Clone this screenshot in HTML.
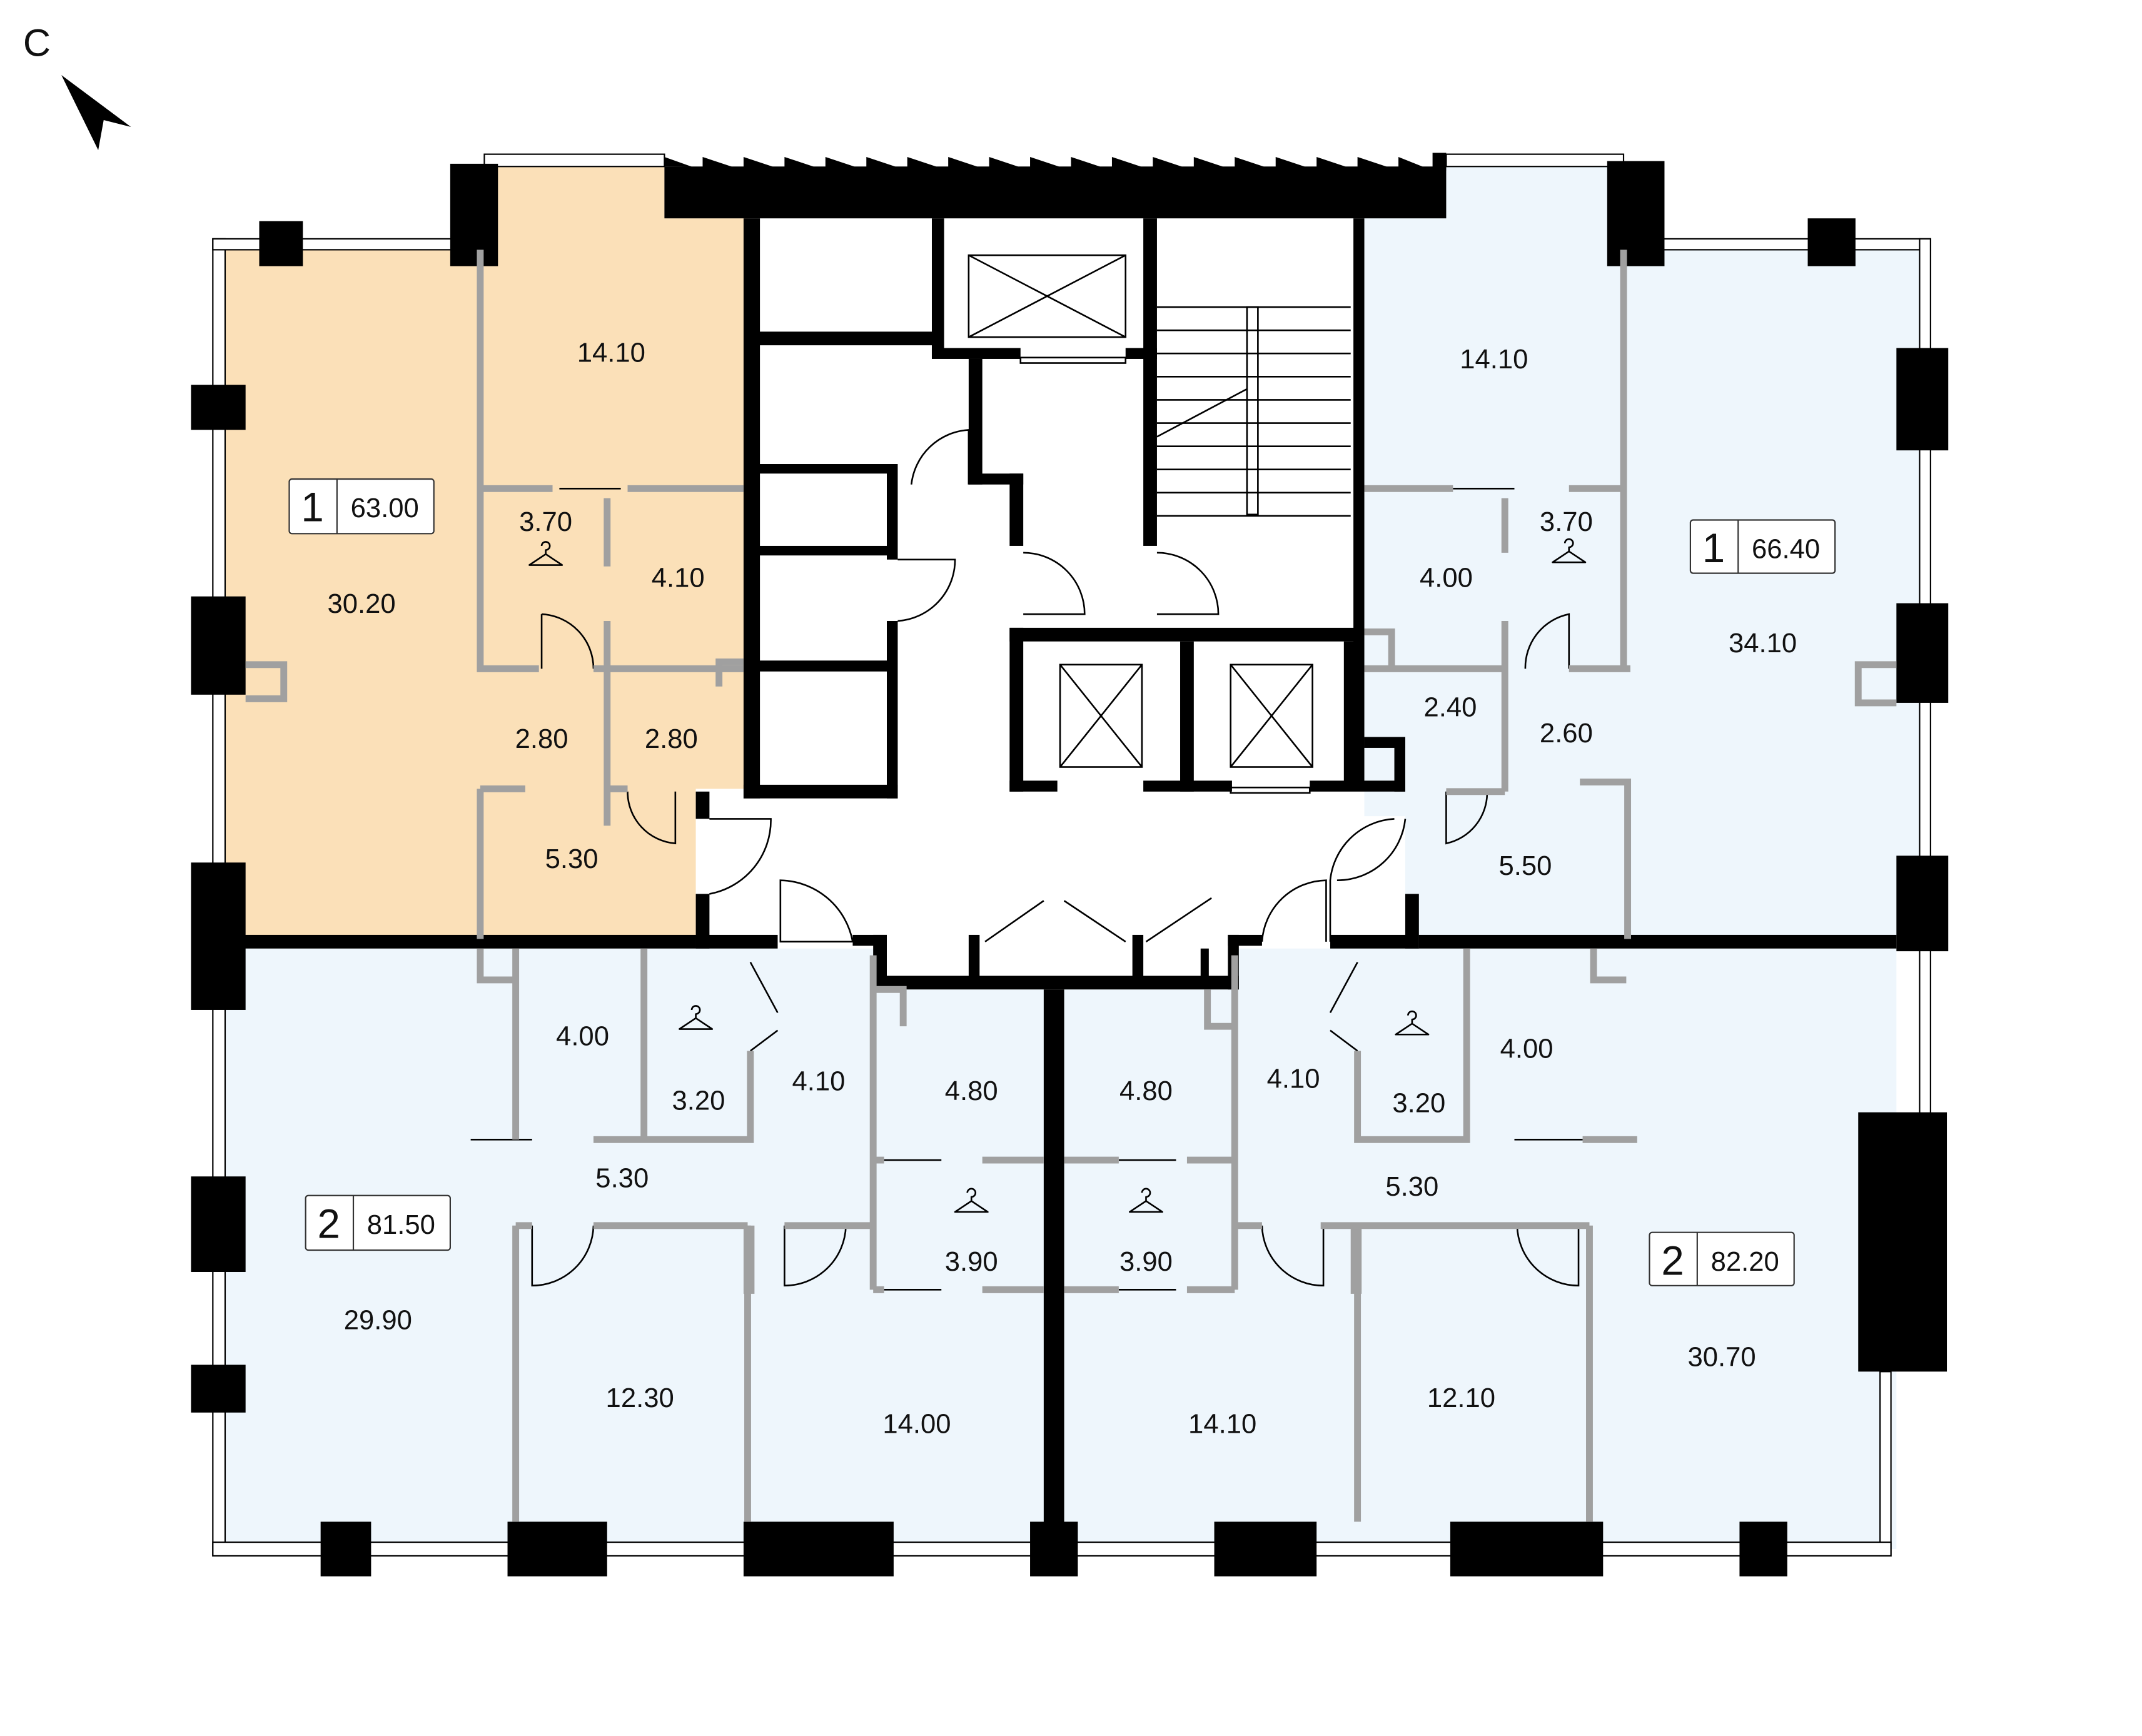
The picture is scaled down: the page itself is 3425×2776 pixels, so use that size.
<!DOCTYPE html>
<html><head><meta charset="utf-8"><style>
html,body{margin:0;padding:0;background:#fff}
svg{display:block}
text{font-family:"Liberation Sans Narrow","Liberation Sans",sans-serif;fill:#111}
</style></head><body>
<svg width="3425" height="2776" viewBox="0 0 1570 1272" preserveAspectRatio="none" xmlns="http://www.w3.org/2000/svg">
<rect width="1570" height="1272" fill="#fff"/>
<polygon points="165,183 350,183 350,122 487,122 487,160 548,160 548,578 510,578 510,688 165,688" fill="#fbe0b8"/>
<polygon points="1000,160 1060,160 1060,122 1190,122 1190,183 1410,183 1410,688 1030,688 1030,598 1000,598" fill="#eef6fc"/>
<rect x="165" y="695" width="1225" height="440" fill="#eef6fc"/>
<rect x="640" y="690" width="265" height="35" fill="#fff"/>
<g fill="#fff" stroke="#000" stroke-width="1">
<rect x="156" y="175" width="9" height="965"/>
<rect x="156" y="175" width="175" height="8"/>
<rect x="355" y="113" width="132" height="9"/>
<rect x="1060" y="113" width="130" height="9"/>
<rect x="1190" y="175" width="225" height="8"/>
<rect x="1407" y="175" width="8" height="645"/>
<rect x="1378" y="1005" width="8" height="135"/>
<rect x="156" y="1130" width="1230" height="10"/>
</g>
<g fill="#000">
<rect x="140" y="282" width="40" height="33"/><rect x="140" y="437" width="40" height="72"/>
<rect x="140" y="632" width="40" height="108"/><rect x="140" y="862" width="40" height="70"/>
<rect x="140" y="1000" width="40" height="35"/>
<rect x="235" y="1115" width="37" height="40"/><rect x="372" y="1115" width="73" height="40"/>
<rect x="545" y="1115" width="110" height="40"/><rect x="755" y="1115" width="35" height="40"/>
<rect x="890" y="1115" width="75" height="40"/><rect x="1063" y="1115" width="112" height="40"/>
<rect x="1275" y="1115" width="35" height="40"/>
<rect x="1390" y="255" width="38" height="75"/><rect x="1390" y="442" width="38" height="73"/>
<rect x="1390" y="627" width="38" height="70"/><rect x="1362" y="815" width="65" height="190"/>
<rect x="190" y="162" width="32" height="33"/><rect x="330" y="120" width="35" height="75"/>
<rect x="1178" y="118" width="42" height="77"/><rect x="1325" y="160" width="35" height="35"/>
<rect x="487" y="122" width="573" height="38"/>
<path d="M487 122 L487 115 L515 125 L515 115 L545 125 L545 115 L575 125 L575 115 L605 125 L605 115 L635 125 L635 115 L665 125 L665 115 L695 125 L695 115 L725 125 L725 115 L755 125 L755 115 L785 125 L785 115 L815 125 L815 115 L845 125 L845 115 L875 125 L875 115 L905 125 L905 115 L935 125 L935 115 L965 125 L965 115 L995 125 L995 115 L1025 125 L1025 115 L1050 125 L1050 112 L1060 112 L1060 125 Z"/>
</g>
<g fill="#000">
<rect x="545" y="160" width="12" height="425"/>
<rect x="555" y="243" width="130" height="10"/>
<rect x="555" y="340" width="102" height="7"/><rect x="555" y="400" width="102" height="7"/>
<rect x="555" y="484" width="102" height="8"/><rect x="545" y="575" width="113" height="10"/>
<rect x="650" y="340" width="8" height="70"/><rect x="650" y="455" width="8" height="130"/>
<rect x="683" y="160" width="9" height="102"/><rect x="683" y="255" width="65" height="8"/>
<rect x="825" y="255" width="23" height="8"/><rect x="838" y="160" width="10" height="240"/>
<rect x="710" y="263" width="10" height="92"/><rect x="710" y="347" width="40" height="8"/>
<rect x="740" y="347" width="10" height="53"/>
<rect x="992" y="160" width="8" height="415"/>
<rect x="740" y="460" width="253" height="10"/><rect x="740" y="460" width="10" height="120"/>
<rect x="740" y="572" width="35" height="8"/><rect x="865" y="470" width="10" height="110"/>
<rect x="838" y="572" width="65" height="8"/><rect x="960" y="572" width="70" height="8"/>
<rect x="985" y="470" width="8" height="105"/>
<rect x="1000" y="540" width="30" height="8"/><rect x="1022" y="540" width="8" height="40"/>
<rect x="165" y="685" width="345" height="10"/><rect x="510" y="580" width="10" height="20"/>
<rect x="510" y="655" width="10" height="40"/><rect x="510" y="685" width="60" height="10"/>
<rect x="625" y="685" width="25" height="8"/><rect x="640" y="685" width="10" height="40"/>
<rect x="640" y="715" width="268" height="10"/><rect x="710" y="685" width="8" height="35"/>
<rect x="830" y="685" width="8" height="35"/><rect x="880" y="695" width="6" height="25"/>
<rect x="900" y="685" width="8" height="40"/><rect x="900" y="685" width="25" height="8"/>
<rect x="975" y="685" width="65" height="10"/><rect x="1030" y="655" width="10" height="40"/>
<rect x="1040" y="685" width="350" height="10"/>
<rect x="765" y="725" width="15" height="425"/>
</g>
<g fill="none" stroke="#000" stroke-width="1.2">
<rect x="710" y="187" width="115" height="60"/><path d="M710 187 L825 247 M825 187 L710 247"/>
<rect x="748" y="262" width="77" height="4"/>
<rect x="777" y="487" width="60" height="75"/><path d="M777 487 L837 562 M837 487 L777 562"/>
<rect x="902" y="487" width="60" height="75"/><path d="M902 487 L962 562 M962 487 L902 562"/>
<rect x="902" y="577" width="58" height="4"/>
<path d="M848 225H990M848 242H990M848 259H990M848 276H990M848 293H990M848 310H990M848 327H990M848 344H990M848 361H990M848 378H990"/>
<rect x="914" y="225" width="8" height="152"/>
<path d="M848 320 L914 285"/>
<path d="M668 355 A45 45 0 0 1 710 315 L710 355"/>
<path d="M658 410 L700 410 A45 45 0 0 1 658 455"/>
<path d="M750 405 A45 45 0 0 1 795 450 L750 450"/>
<path d="M848 405 A45 45 0 0 1 893 450 L848 450"/>
<path d="M520 600 L565 600 A55 55 0 0 1 520 655"/>
<path d="M572 645 A55 55 0 0 1 625 690 L572 690 Z"/>
<path d="M1022 600 A50 50 0 0 0 975 645 L975 690 M1030 600 A50 50 0 0 1 980 645"/>
<path d="M925 690 A48 48 0 0 1 972 645 L972 690"/>
<path d="M722 690 L765 660 M780 660 L825 690 M840 690 L888 658"/>
<path d="M397 450 L397 490 M397 450 A40 40 0 0 1 435 490"/>
<path d="M1118 490 A40 40 0 0 1 1150 450 L1150 490"/>
<path d="M460 580 A38 38 0 0 0 495 618 L495 580"/>
<path d="M1060 580 L1060 618 A38 38 0 0 0 1090 580"/>
<path d="M390 898 L390 942 A45 45 0 0 0 435 898"/>
<path d="M575 898 L575 942 A45 45 0 0 0 620 898"/>
<path d="M925 898 A45 45 0 0 0 970 942 L970 898"/>
<path d="M1112 898 A45 45 0 0 0 1157 942 L1157 898"/>
<path d="M550 705 L570 742 M570 755 L550 770"/>
<path d="M995 705 L975 742 M975 755 L995 770"/>
<path d="M410 358 L455 358 M1065 358 L1110 358 M345 835 L390 835 M1110 835 L1160 835 M648 850 L690 850 M648 945 L690 945 M820 850 L862 850 M820 945 L862 945"/>
</g>
<g fill="none" stroke="#a0a0a0" stroke-width="5">
<path d="M352 183V490H395 M435 490H545 M352 358H405 M460 358H545 M445 365V415 M445 455V605 M352 578V688 M352 578H385 M445 578H460"/>
<path d="M180 487H208V512H180 M527 503V485H545"/>
<path d="M1000 358H1065 M1150 358H1190 M1190 183V490 M1103 365V405 M1103 455V580 M1000 490H1105 M1150 490H1195 M1158 573H1193V688 M1000 463H1020V490 M1060 580H1103"/>
<path d="M1390 487H1362V515H1390"/>
<path d="M378 695V835 M352 695V718H378 M472 695V835H550V770 M435 835H472 M640 700V945 M640 725H662V752 M378 898V1115 M378 898H390 M435 898H548 M548 898V1115 M575 898H640"/>
<path d="M640 850H648 M720 850H765 M640 945H648 M720 945H765 M780 850H820 M870 850H905 M780 945H820 M870 945H905 M905 700V945 M905 898H925 M968 898H1165 M995 898V1115 M1165 898V1115 M995 770V835H1075V695 M1160 835H1200 M1168 695V718H1192 M885 725V752H905"/>
</g>
<g fill="#a0a0a0"><rect x="545" y="898" width="8" height="50"/><rect x="990" y="898" width="8" height="50"/></g>
<g fill="none" stroke="#000" stroke-width="1.2" stroke-linejoin="round">
<path d="M397 400 a3 3 0 1 1 3 3 L400 406 L388 414 L412 414 L400 406"/>
<path d="M1147 398 a3 3 0 1 1 3 3 L1150 404 L1138 412 L1162 412 L1150 404"/>
<path d="M507 740 a3 3 0 1 1 3 3 L510 746 L498 754 L522 754 L510 746"/>
<path d="M1032 744 a3 3 0 1 1 3 3 L1035 750 L1023 758 L1047 758 L1035 750"/>
<path d="M709 874 a3 3 0 1 1 3 3 L712 880 L700 888 L724 888 L712 880"/>
<path d="M837 874 a3 3 0 1 1 3 3 L840 880 L828 888 L852 888 L840 880"/>
</g>
<g fill="#fff" stroke="#333" stroke-width="1">
<rect x="212" y="351" width="106" height="40" rx="2"/><line x1="247" y1="351" x2="247" y2="391"/>
<rect x="1239" y="381" width="106" height="39" rx="2"/><line x1="1274" y1="381" x2="1274" y2="420"/>
<rect x="224" y="876" width="106" height="40" rx="2"/><line x1="259" y1="876" x2="259" y2="916"/>
<rect x="1209" y="903" width="106" height="39" rx="2"/><line x1="1244" y1="903" x2="1244" y2="942"/>
</g>
<g text-anchor="middle" font-size="20">
<text x="229" y="382" font-size="30">1</text><text x="282" y="379">63.00</text>
<text x="1256" y="412" font-size="30">1</text><text x="1309" y="409">66.40</text>
<text x="241" y="907" font-size="30">2</text><text x="294" y="904">81.50</text>
<text x="1226" y="934" font-size="30">2</text><text x="1279" y="931">82.20</text>
<text x="448" y="265">14.10</text><text x="400" y="389">3.70</text><text x="497" y="430">4.10</text>
<text x="265" y="449">30.20</text><text x="397" y="548">2.80</text><text x="492" y="548">2.80</text>
<text x="419" y="636">5.30</text><text x="1095" y="270">14.10</text><text x="1148" y="389">3.70</text>
<text x="1060" y="430">4.00</text><text x="1292" y="478">34.10</text><text x="1063" y="525">2.40</text>
<text x="1148" y="544">2.60</text><text x="1118" y="641">5.50</text><text x="427" y="766">4.00</text>
<text x="512" y="813">3.20</text><text x="600" y="799">4.10</text><text x="712" y="806">4.80</text>
<text x="840" y="806">4.80</text><text x="948" y="797">4.10</text><text x="1040" y="815">3.20</text>
<text x="1119" y="775">4.00</text><text x="456" y="870">5.30</text><text x="1035" y="876">5.30</text>
<text x="712" y="931">3.90</text><text x="840" y="931">3.90</text><text x="277" y="974">29.90</text>
<text x="469" y="1031">12.30</text><text x="672" y="1050">14.00</text><text x="896" y="1050">14.10</text>
<text x="1071" y="1031">12.10</text><text x="1262" y="1001">30.70</text>
<text x="27" y="41" font-size="28">C</text>
</g>
<polygon points="45,55 72,110 76,88 96,93" fill="#000"/>
</svg>
</body></html>
